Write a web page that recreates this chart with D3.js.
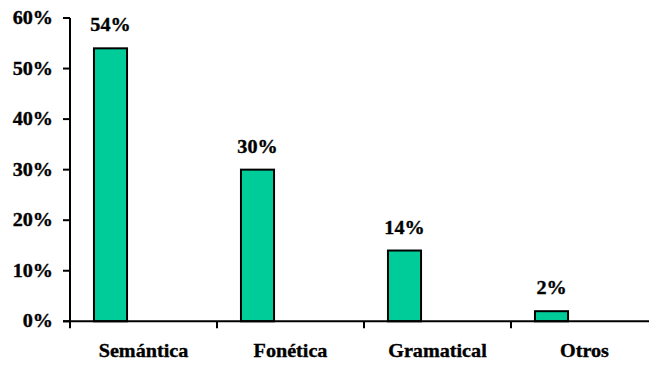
<!DOCTYPE html>
<html>
<head>
<meta charset="utf-8">
<script src="https://cdn.jsdelivr.net/npm/d3@7"></script>
<style>
  html, body { margin: 0; padding: 0; background: #fff; }
  text { font-family: "Liberation Serif", "Times New Roman", Times, serif; font-weight: bold; font-size: 18px; fill: #000; stroke: #000; stroke-width: 0.35px; }
</style>
</head>
<body>
<div id="chart"></div>
<script>
const categories = ["Semántica", "Fonética", "Gramatical", "Otros"];
const values = [54, 30, 14, 2];
const yTicks = [0, 10, 20, 30, 40, 50, 60];

const width = 649, height = 365;
const stretch = 1.12; // text in the picture is a bit wider than normal

const svg = d3.select("#chart").append("svg")
  .attr("width", width)
  .attr("height", height);

const x = d3.scaleBand()
  .domain(categories)
  .range([70, 658])
  .padding(0);

const y = d3.scaleLinear()
  .domain([0, 60])
  .range([321.3, 18]);

function label(px, py, anchor, txt) {
  svg.append("text")
    .attr("transform", `translate(${px},${py}) scale(${stretch},1)`)
    .attr("text-anchor", anchor)
    .text(txt);
}

// bars
const bw = x.bandwidth();
svg.selectAll("rect.bar")
  .data(values)
  .enter()
  .append("rect")
  .attr("class", "bar")
  .attr("x", (d, i) => x(categories[i]) + bw * 0.163)
  .attr("y", (d) => y(d))
  .attr("width", bw * 0.225)
  .attr("height", (d) => y(0) - y(d))
  .attr("fill", "#00CC99")
  .attr("stroke", "#000")
  .attr("stroke-width", 2);

// value labels
values.forEach((v, i) => {
  label(x(categories[i]) + bw * 0.163 + bw * 0.1125, y(v) - 17, "middle", v + "%");
});

// y axis
svg.append("line")
  .attr("x1", x.range()[0]).attr("x2", x.range()[0])
  .attr("y1", y(60)).attr("y2", y(0))
  .attr("stroke", "#000").attr("stroke-width", 2);
yTicks.forEach((t) => {
  svg.append("line")
    .attr("x1", x.range()[0] - 7).attr("x2", x.range()[0])
    .attr("y1", y(t)).attr("y2", y(t))
    .attr("stroke", "#000").attr("stroke-width", 2);
  label(53, y(t) + 6, "end", t + "%");
});

// x axis
svg.append("line")
  .attr("x1", x.range()[0] - 7).attr("x2", width)
  .attr("y1", y(0)).attr("y2", y(0))
  .attr("stroke", "#000").attr("stroke-width", 2);
categories.forEach((c) => {
  svg.append("line")
    .attr("x1", x(c)).attr("x2", x(c))
    .attr("y1", y(0)).attr("y2", y(0) + 7)
    .attr("stroke", "#000").attr("stroke-width", 2);
  label(x(c) + bw / 2, 357, "middle", c);
});
</script>
</body>
</html>
